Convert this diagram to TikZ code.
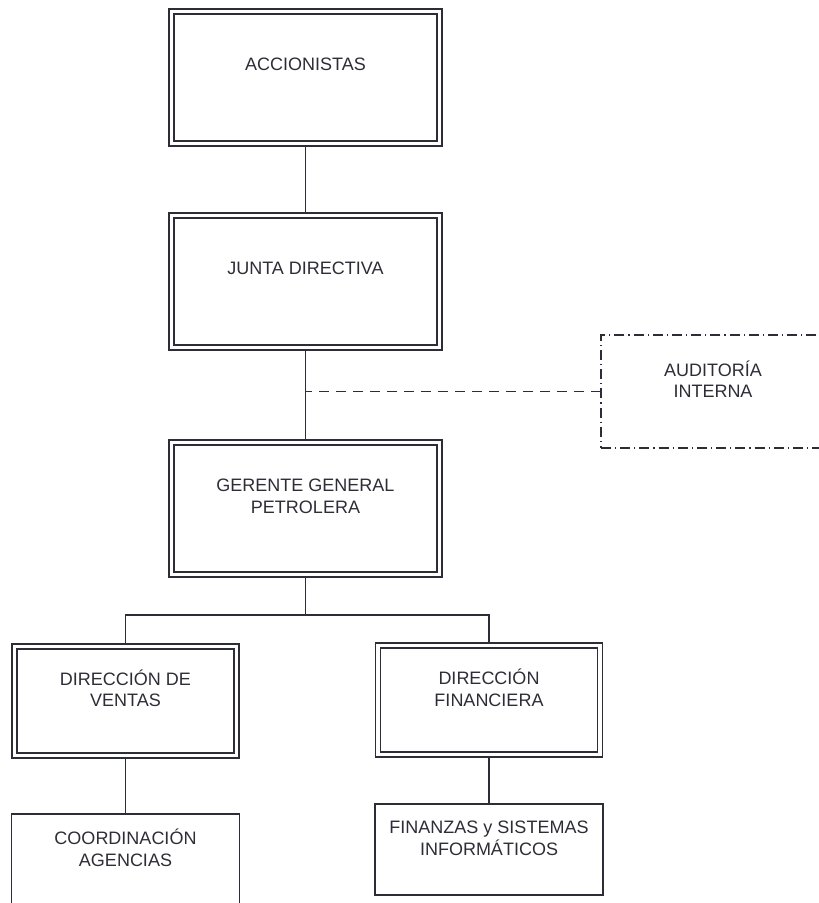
\documentclass[tikz,border=0pt]{standalone}
\usepackage{fontspec}
\setmainfont{Liberation Sans}
\usepackage{xcolor}
\usetikzlibrary{calc,positioning}
\definecolor{trazo}{RGB}{45,45,55}

\begin{document}
\begin{tikzpicture}[x=1pt, y=1pt]
\tikzstyle{caja}=[draw = trazo, line width = 1.1pt, outer sep = 0pt, inner sep = 0pt, minimum width = 273pt, minimum height = 137pt]
\tikzstyle{cajita}=[caja, minimum width = 227pt, minimum height = 114pt]
\tikzstyle{simple}=[caja, minimum width = 228pt, minimum height = 91pt]
\tikzstyle{punteada}=[caja, minimum width = 224pt, minimum height = 113pt, dash pattern = on 10pt off 4pt on 1.2pt off 4pt]
\tikzstyle{txt}=[text = trazo, align = center, inner sep = 0pt, font = \fontsize{18}{21.5}\selectfont]
\tikzstyle{lin}=[draw = trazo, line width = 1.1pt]

\clip (0,0) rectangle (819,-903);

\node[caja] (acc) at (305.5,-77.5) {};
\node[caja, below = 67pt of acc] (jd) {};
\node[caja, below = 90pt of jd] (gg) {};
\node[cajita] (dv) at (125.5,-701) {};
\node[cajita] (df) at (489,-700) {};
\node[simple, below = 56pt of dv] (ca) {};
\node[simple, below = 47pt of df] (fs) {};
\node[punteada] (ai) at (713,-391.5) {};

% second frame inside the double boxes
\foreach \n in {acc,jd,gg,dv,df}
  \draw[lin] ($(\n.south west)+(5,5)$) rectangle ($(\n.north east)+(-5,-5)$);

\node[txt] (acc-t) at ($(acc.north)+(0,-55)$) {ACCIONISTAS};
\node[txt] (jd-t) at ($(jd.north)+(0,-55.5)$) {JUNTA DIRECTIVA};
\node[txt] (gg-t) at ($(gg.north)+(0,-56.5)$) {GERENTE GENERAL\\PETROLERA};
\node[txt] (dv-t) at ($(dv.north)+(0,-44.5)$) {DIRECCIÓN DE\\VENTAS};
\node[txt] (df-t) at ($(df.north)+(0,-45)$) {DIRECCIÓN\\FINANCIERA};
\node[txt] (ca-t) at ($(ca.north)+(0,-34)$) {COORDINACIÓN\\AGENCIAS};
\node[txt] (fs-t) at ($(fs.north)+(0,-34.5)$) {FINANZAS y SISTEMAS\\INFORMÁTICOS};
\node[txt] (ai-t) at ($(ai.north)+(0,-44)$) {AUDITORÍA\\INTERNA};

\draw[lin] (acc) -- (jd);
\draw[lin] (jd) -- (gg);
\draw[lin] (gg.south) -- ++(0,-38) coordinate (bar);
\draw[lin] (dv.north) |- (bar) -| (df.north);
\draw[lin] (dv) -- (ca);
\draw[lin] (df) -- (fs);
\draw[lin, dash pattern = on 10pt off 7pt] (ai.west) -- (ai.west -| jd.south);
\end{tikzpicture}
\end{document}
